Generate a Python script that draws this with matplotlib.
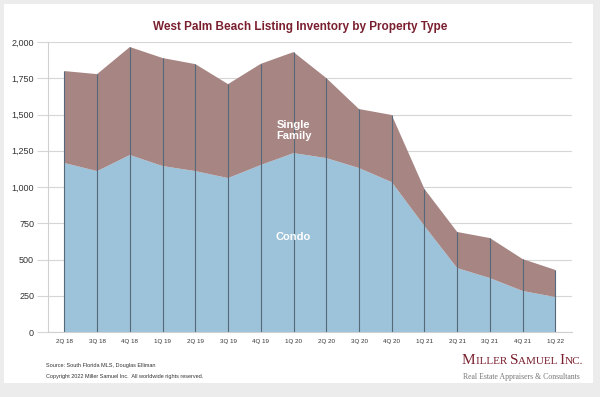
import numpy as np
import matplotlib
matplotlib.use("Agg")
import matplotlib.pyplot as plt
from matplotlib.patches import Rectangle

quarters = ["2Q 18", "3Q 18", "4Q 18", "1Q 19", "2Q 19", "3Q 19", "4Q 19", "1Q 20",
            "2Q 20", "3Q 20", "4Q 20", "1Q 21", "2Q 21", "3Q 21", "4Q 21", "1Q 22"]
condo = [1166, 1110, 1221, 1145, 1110, 1062, 1152, 1234,
         1200, 1131, 1034, 731, 441, 372, 283, 241]
total = [1800, 1779, 1966, 1890, 1848, 1710, 1850, 1931,
         1752, 1538, 1497, 986, 690, 648, 503, 428]
single_family = [t - c for t, c in zip(total, condo)]

plt.rcParams['font.family'] = ['Liberation Sans', 'DejaVu Sans']

fig = plt.figure(figsize=(6, 3.97), dpi=100)
fig.patch.set_facecolor('#ececec')
fig.patches.append(Rectangle((0.006, 0.035), 0.982, 0.955, transform=fig.transFigure,
                             facecolor='white', edgecolor='none', zorder=-1))

ax = fig.add_axes([0.08, 0.1637, 0.873, 0.7303])
ax.set_facecolor('none')
x = np.arange(len(quarters))
ax.stackplot(x, condo, single_family, colors=['#9dc3da', '#a68583'], zorder=2)
ax.vlines(x, 0, total, colors='#56697a', linewidth=0.8, zorder=3)

ax.set_xlim(-0.5, len(quarters) - 0.5)
ax.set_ylim(0, 2000)
ax.set_yticks(np.arange(0, 2001, 250))
ax.set_yticklabels([f"{v:,}" for v in range(0, 2001, 250)], fontsize=6.5, color='#333333')
ax.set_xticks(x)
ax.set_xticklabels(quarters, fontsize=4.5, color='#333333')
ax.grid(axis='y', color='#d6d6d6', linewidth=0.8, zorder=1)
ax.set_axisbelow(True)
for s in ['top', 'right']:
    ax.spines[s].set_visible(False)
ax.spines['left'].set_color('#d0d0d0')
ax.spines['bottom'].set_color('#d0d0d0')
ax.tick_params(axis='y', length=8, color='#d6d6d6', pad=2)
ax.tick_params(axis='x', length=0, pad=5)

ax.text(7.0, 1390, "Single\nFamily", ha='center', va='center', color='white',
        fontsize=8, fontweight='bold', linespacing=1.1, zorder=4)
ax.text(7.0, 655, "Condo", ha='center', va='center', color='white',
        fontsize=8, fontweight='bold', zorder=4)

fig.text(0.5, 0.932, "West Palm Beach Listing Inventory by Property Type", ha='center',
         va='center', fontsize=8.5, fontweight='bold', color='#7a1f2e')

fig.text(0.077, 0.079, "Source: South Florida MLS, Douglas Elliman", fontsize=4,
         color='#333333', va='center')
fig.text(0.077, 0.052, "Copyright 2022 Miller Samuel Inc.  All worldwide rights reserved.",
         fontsize=4, color='#333333', va='center')

# small caps logo
fig.canvas.draw()
renderer = fig.canvas.get_renderer()
chunks = [("M", 11), ("ILLER ", 8), ("S", 11), ("AMUEL ", 8), ("I", 11), ("NC.", 8)]
xpos = 0.77
for txt, size in chunks:
    t = fig.text(xpos, 0.083, txt, fontsize=size, color='#7a1f2e',
                 family='Liberation Serif', va='baseline')
    bb = t.get_window_extent(renderer)
    xpos += bb.width / fig.bbox.width
fig.text(0.771, 0.05, "Real Estate Appraisers & Consultants", fontsize=5.6,
         color='#777777', family='Liberation Serif', va='center')

fig.savefig("out.png", dpi=100)
